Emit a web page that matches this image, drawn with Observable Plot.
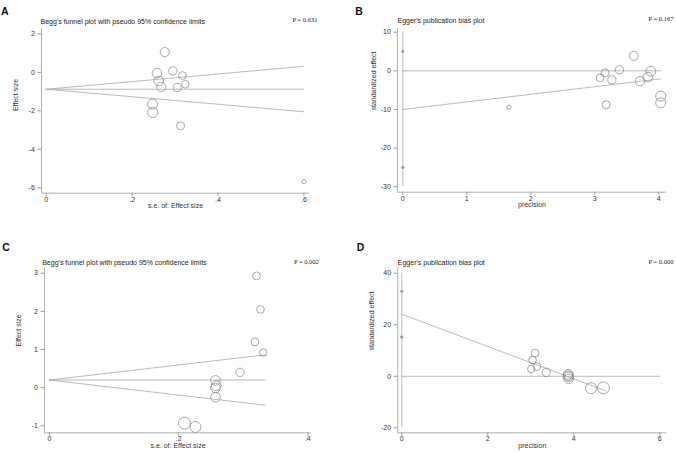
<!DOCTYPE html>
<html><head><meta charset="utf-8">
<script src="https://cdn.jsdelivr.net/npm/d3@7"></script>
<script src="https://cdn.jsdelivr.net/npm/@observablehq/plot@0.6"></script>
<style>
body{margin:0;background:#fff;}
#wrap{position:relative;width:676px;height:453px;overflow:hidden;background:#fff;}
.panel{position:absolute;}
.panel svg{overflow:visible;}
</style></head><body><div id="wrap"></div>
<script>
// ---------- Panel A: Begg's funnel plot (s.e. vs effect size) ----------
const seA   = [0.276, 0.258, 0.295, 0.317, 0.262, 0.268, 0.305, 0.324, 0.2475, 0.248, 0.313, 0.600];
const effA  = [1.05, -0.04, 0.07, -0.17, -0.45, -0.76, -0.79, -0.62, -1.65, -2.09, -2.78, -5.67];
const wA    = [13.1, 15.0, 11.5, 10.0, 14.6, 13.9, 10.7, 9.5, 16.3, 16.3, 10.2, 2.8];
const funnelA_x   = [0, 0.6];
const funnelA_mid = [-0.88, -0.88];
const funnelA_up  = [-0.88, 0.31];
const funnelA_lo  = [-0.88, -2.05];
const ticksAx = [0, 0.2, 0.4, 0.6];
const ticksAy = [-6, -4, -2, 0, 2];

// ---------- Panel B: Egger's plot (precision vs standardized effect) ----------
const precB = [3.609, 3.875, 3.385, 3.16, 3.828, 3.708, 3.266, 3.083, 4.03, 4.03, 3.177, 1.66];
const stdB  = [3.88, -0.09, 0.26, -0.52, -1.64, -2.67, -2.33, -1.81, -6.55, -8.28, -8.79, -9.4];
const eggerB_x = [0, 4.03];
const eggerB_y = [-10, -2.07];
const zeroB_x  = [0, 4.03];
const ciB      = [5, -25];
const ciB_span = [10, -30];
const ticksBx = [0, 1, 2, 3, 4];
const ticksBy = [-30, -20, -10, 0, 10];

// ---------- Panel C: Begg's funnel plot ----------
const seC  = [0.3205, 0.3267, 0.318, 0.331, 0.295, 0.257, 0.258, 0.257, 0.257, 0.209, 0.226];
const effC = [2.93, 2.05, 1.20, 0.92, 0.40, 0.19, 0.05, -0.01, -0.25, -0.93, -1.03];
const wC   = [9.7, 9.4, 9.9, 9.1, 11.5, 15.1, 15.0, 15.1, 15.1, 22.9, 19.6];
const funnelC_x   = [0, 0.334];
const funnelC_mid = [0.2, 0.2];
const funnelC_up  = [0.2, 0.86];
const funnelC_lo  = [0.2, -0.46];
const ticksCx = [0, 0.2, 0.4];
const ticksCy = [-1, 0, 1, 2, 3];

// ---------- Panel D: Egger's plot ----------
const precD = [3.10, 3.04, 3.14, 3.01, 3.36, 3.87, 3.87, 3.88, 3.88, 4.69, 4.40];
const stdD  = [9.03, 6.32, 3.74, 2.84, 1.55, 0.8, 0.2, -0.1, -0.95, -4.5, -4.65];
const eggerD_x = [0, 4.75];
const eggerD_y = [24.1, -5.7];
const zeroD_x  = [0, 6];
const ciD      = [33, 15.2];
const ciD_span = [40, -20];
const ticksDx = [0, 2, 4, 6];
const ticksDy = [-20, 0, 20, 40];

// ---------- styling ----------
const LINE = "#a8a8a8", AXIS = "#9a9a9a", MARK = "#808080", TEXT = "#333";
const SANS = "'Liberation Sans', Arial, Helvetica, sans-serif";
const SERIF = "'Liberation Serif', 'Times New Roman', serif";
function stataFmt(d) {
  if (d === 0) return "0";
  const s = String(+(+d).toFixed(3));
  return s.replace(/^(-?)0\./, "$1.");
}
const pairs = (xs, ys) => xs.map((x, i) => ({x, y: ys[i]}));
const lineMark = (xs, ys) => Plot.line(pairs(xs, ys), {x: "x", y: "y", stroke: LINE, strokeWidth: 0.8});

function panel(c) {
  const pts = c.xs.map((x, i) => ({x, y: c.ys[i], w: c.ws[i]}));
  const svg = Plot.plot({
    width: c.width, height: c.height,
    marginTop: c.m[0], marginRight: c.m[1], marginBottom: c.m[2], marginLeft: c.m[3],
    style: {fontFamily: SANS, fontSize: "7px", color: TEXT, background: "transparent"},
    x: {domain: c.xd, axis: null},
    y: {domain: c.yd, axis: null},
    r: {domain: [0, 25], range: [0, 6.25]},
    marks: [
      Plot.ruleX([c.xd[0]], {stroke: AXIS, strokeWidth: 0.8}),
      Plot.ruleY([c.yd[0]], {stroke: AXIS, strokeWidth: 0.8}),
      Plot.axisX(c.xt, {tickFormat: stataFmt, tickSize: 3.3, tickPadding: 0.4, stroke: AXIS, fill: TEXT, fontSize: 7, label: null}),
      Plot.axisY(c.yt, {tickFormat: stataFmt, tickSize: 3.5, tickPadding: 3.2, stroke: AXIS, fill: TEXT, fontSize: 7, label: null}),
      ...c.lines,
      Plot.dot(pts, {x: "x", y: "y", r: "w", stroke: MARK, strokeWidth: 0.7, fill: "none"}),
      Plot.text([c.title], {text: d => d, frameAnchor: "top-left", textAnchor: "start", dx: c.tpos[0], dy: c.tpos[1], fontSize: 7, fill: "#222"}),
      Plot.text([c.p], {text: d => d, frameAnchor: "top-right", textAnchor: "end", dx: c.ppos[0], dy: c.ppos[1], fontSize: 6.5, fontFamily: SERIF, fill: "#222"}),
      Plot.text([c.letter], {text: d => d, frameAnchor: "top-left", textAnchor: "start", dx: c.lpos[0], dy: c.lpos[1], fontSize: 10.5, fontWeight: "bold", fill: "#111"}),
      Plot.text([c.xlab], {text: d => d, frameAnchor: "bottom", dy: c.xlabDy, fontSize: 7, fill: TEXT}),
      Plot.text([c.ylab], {text: d => d, frameAnchor: "left", dx: c.ylabDx, dy: c.ylabDy || 0, rotate: -90, fontSize: 7, fill: TEXT})
    ]
  });
  const div = document.createElement("div");
  div.className = "panel";
  div.style.left = c.left + "px";
  div.style.top = c.top + "px";
  div.appendChild(svg);
  document.getElementById("wrap").appendChild(div);
}

panel({
  left: 0, top: 0, width: 338, height: 225, m: [28.3, 29, 32.3, 41],
  xd: [-0.01094, 0.6130], yd: [-6.28, 2.26], xt: ticksAx, yt: ticksAy,
  xs: seA, ys: effA, ws: wA,
  lines: [lineMark(funnelA_x, funnelA_mid), lineMark(funnelA_x, funnelA_up), lineMark(funnelA_x, funnelA_lo)],
  title: "Begg's funnel plot with pseudo 95% confidence limits", tpos: [-1, -9.3],
  p: "P = 0.631", ppos: [8, -11.3],
  letter: "A", lpos: [-40.5, -21.5],
  xlab: "s.e. of: Effect size", xlabDy: 15.2,
  ylab: "Effect size", ylabDx: -26
});

panel({
  left: 338, top: 0, width: 338, height: 225, m: [28.3, 10, 33.3, 59],
  xd: [-0.0828, 4.120], yd: [-31.40, 10.88], xt: ticksBx, yt: ticksBy,
  xs: precB, ys: stdB, ws: wA,
  lines: [
    Plot.ruleX([{x: 0, y1: ciB_span[0], y2: ciB_span[1]}], {x: "x", y1: "y1", y2: "y2", stroke: LINE, strokeWidth: 0.8}),
    lineMark(zeroB_x, [0, 0]),
    lineMark(eggerB_x, eggerB_y),
    Plot.dot(ciB.map(y => ({x: 0, y})), {x: "x", y: "y", r: 1.3, fill: "#a0a0a0", stroke: "#8a8a8a", strokeWidth: 0.5})
  ],
  title: "Egger's publication bias plot", tpos: [0, -10.5],
  p: "P = 0.167", ppos: [7, -12],
  letter: "B", lpos: [-42.3, -21.5],
  xlab: "precision", xlabDy: 15,
  ylab: "standardized effect", ylabDx: -24
});

panel({
  left: 0, top: 225, width: 338, height: 228, m: [42.7, 27, 20.7, 44],
  xd: [-0.00774, 0.4057], yd: [-1.1835, 3.131], xt: ticksCx, yt: ticksCy,
  xs: seC, ys: effC, ws: wC,
  lines: [lineMark(funnelC_x, funnelC_mid), lineMark(funnelC_x, funnelC_up), lineMark(funnelC_x, funnelC_lo)],
  title: "Begg's funnel plot with pseudo 95% confidence limits", tpos: [-2.3, -8.4],
  p: "P = 0.002", ppos: [7.3, -8.4],
  letter: "C", lpos: [-42.3, -24.4],
  xlab: "s.e. of: Effect size", xlabDy: 15,
  ylab: "Effect size", ylabDx: -25.7, ylabDy: -4
});

panel({
  left: 338, top: 225, width: 338, height: 228, m: [42.7, 9.7, 20.7, 59.3],
  xd: [-0.093, 6.163], yd: [-21.94, 41.94], xt: ticksDx, yt: ticksDy,
  xs: precD, ys: stdD, ws: wC,
  lines: [
    Plot.ruleX([{x: 0, y1: ciD_span[0], y2: ciD_span[1]}], {x: "x", y1: "y1", y2: "y2", stroke: LINE, strokeWidth: 0.8}),
    lineMark(zeroD_x, [0, 0]),
    lineMark(eggerD_x, eggerD_y),
    Plot.dot(ciD.map(y => ({x: 0, y})), {x: "x", y: "y", r: 1.3, fill: "#a0a0a0", stroke: "#8a8a8a", strokeWidth: 0.5})
  ],
  title: "Egger's publication bias plot", tpos: [0, -8.4],
  p: "P = 0.000", ppos: [6.7, -8.4],
  letter: "D", lpos: [-41, -24.4],
  xlab: "precision", xlabDy: 15,
  ylab: "standardized effect", ylabDx: -26
});
</script></body></html>
